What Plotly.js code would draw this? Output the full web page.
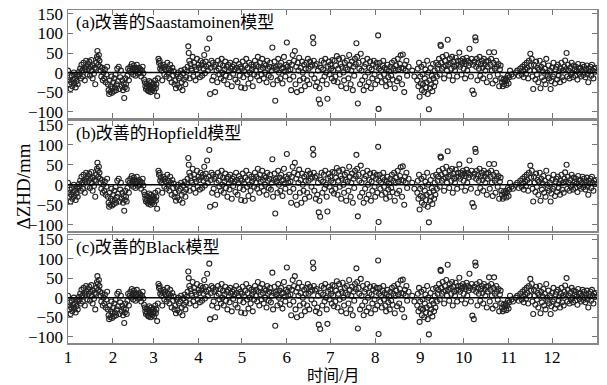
<!DOCTYPE html>
<html><head><meta charset="utf-8">
<script src="https://cdn.plot.ly/plotly-3.0.1.min.js"></script>
<style>html,body{margin:0;padding:0;background:#fff;}#chart{width:607px;height:385px;}</style>
</head><body><div id="chart"></div>
<script>
// Day of year of each observation
const days = [
1,1.5,2,2.3,2.8,3.2,3.6,4,4.5,5,5.4,5.9,6.3,6.8,7.2,7.7,8.1,8.6,
9,9.4,9.9,10.3,10.8,11.2,11.7,12.1,12.6,13,13.5,13.9,14.4,14.8,15.3,15.7,16.2,16.6,17.1,17.5,18,18.4,18.9,19.3,19.8,
20.2,20.6,21,21.3,21.6,22,22.3,22.7,23.1,23.5,24,24.5,25,25.5,26,26.5,27,27.5,28,
28.5,29,29.4,29.8,30.2,30.6,31,31.4,31.8,32.2,32.6,33,33.4,33.8,34.2,34.6,35,35.5,36,36.5,37,37.5,
38,38.5,39,39.4,39.8,40.2,40.6,41,41.5,42,42.5,43,43.5,
44,44.5,45,45.5,46,46.4,46.8,47.2,47.6,48,48.5,49,49.5,50,50.5,51,51.5,52,52.5,53,53.5,
54,54.4,54.8,55.2,55.6,56,56.3,56.6,57,57.3,57.6,58,58.3,58.6,59,59.3,59.6,60,60.4,60.8,61.2,61.6,62,
62.5,63,63.4,63.8,64.2,64.6,65,65.5,66,66.5,67,67.5,68,68.5,69,69.5,70,70.5,71,71.5,72,72.5,73,73.5,74,74.5,
75,75.5,76,76.5,77,77.5,78,78.5,79,79.5,80,80.5,81,81.5,82,82.5,83,
83.5,84,84.3,84.7,85,85.5,86,86.5,87,87.5,88,88.5,89,89.5,90,90.5,91,91.5,92,
92.5,93,93.5,94,94.5,95,95.5,96,96.5,97,97.5,98,98.5,99,99.5,100,100.5,
101,101.5,102,102.5,103,103.5,104,104.5,105,105.5,106,106.5,107,107.5,108,108.5,109,109.5,110,110.5,111,111.5,112,112.5,113,113.5,114,114.5,115,115.5,
116,116.5,117,117.5,118,118.5,119,119.5,120,120.5,121,121.5,122,122.5,123,123.5,124,124.5,125,125.5,126,126.5,127,127.5,128,128.5,129,129.5,130,
130.5,131,131.5,132,132.5,133,133.5,134,134.5,135,135.5,136,136.5,137,137.5,138,138.5,139,139.5,140,140.5,141,141.5,142,142.5,143,
143.5,144,144.5,145,145.5,146,146.5,147,147.5,148,148.5,149,149.5,150,150.5,151,151.5,152,152.5,153,153.5,154,154.5,155,
155.5,156,156.5,157,157.5,158,158.5,159,159.5,160,160.5,161,161.5,162,162.5,163,163.5,164,164.5,165,
165.5,166,166.5,167,167.5,168,168.5,169,169.5,170,170.3,170.6,171,171.5,172,172.5,173,173.5,174,174.5,175,175.5,176,176.5,177,177.5,178,178.5,179,179.5,180,180.5,181,181.5,182,182.5,183,183.5,184,184.5,
185,185.5,186,186.5,187,187.5,188,188.5,189,189.5,190,190.5,191,191.5,192,192.5,193,193.5,194,194.5,195,195.5,196,196.5,197,197.5,198,198.5,199,199.5,200,
200.5,201,201.5,202,202.5,203,203.5,204,204.5,205,205.5,206,206.5,207,207.5,208,208.5,209,209.5,210,210.5,211,211.5,212,212.5,213,213.5,214,214.5,215,215.3,215.6,
216,216.5,217,217.5,218,218.5,219,219.5,220,220.5,221,221.5,222,222.5,223,223.5,224,224.5,225,225.5,226,226.5,227,227.5,228,228.5,229,229.5,230,230.5,231,231.5,232,232.5,233,233.5,234,234.5,235,236,
238.5,240,
242,242.4,242.8,243.2,243.6,244,244.4,244.8,245.2,245.6,246,246.4,246.8,247.2,247.6,248,248.4,248.8,249.2,249.6,250,250.4,250.8,251.2,251.6,252,252.4,252.8,253.2,253.6,254,254.5,255,255.5,256,
256.5,257,257.5,258,258.3,258.6,259,259.5,260,260.5,261,261.5,262,262.5,263,263.5,264,264.5,265,265.5,266,266.5,267,267.5,268,268.5,269,269.5,270,
270.5,271,271.5,272,272.5,273,273.5,274,274.5,275,275.5,276,276.5,277,277.5,278,278.5,279,279.5,280,280.5,281,281.5,282,282.3,282.6,283,283.5,284,284.5,285,285.5,286,286.5,287,287.5,288,288.5,289,289.5,290,
290.5,291,291.5,292,292.5,293,293.5,294,294.5,295,295.5,296,296.5,297,297.5,298,298.5,299,299.5,300,
300.5,301,301.5,302,302.5,303,303.5,304,304.5,305,305.5,306,307,308,
310,311,312,313,314,314.5,315,315.5,316,316.5,317,317.5,318,318.5,319,319.5,320,320.5,
321,321.5,322,322.5,323,323.5,324,324.5,325,325.5,326,326.5,327,327.5,328,328.5,329,329.5,330,330.5,331,331.5,332,332.5,333,333.5,334,334.5,335,335.5,336,336.5,337,337.5,338,338.5,339,339.5,340,340.5,341,341.5,342,342.5,343,343.5,344,344.5,345,
345.5,346,346.5,347,347.5,348,348.5,349,349.5,350,350.5,351,351.5,352,352.5,353,353.5,354,354.5,355,355.5,356,356.5,357,357.5,358,358.5,359,359.5,360,360.5,361,361.5,362,362.5,363,363.5,364,364.5,365
];
// ΔZHD values (mm), same for the three improved models (differences are below plotting resolution)
const dZHD = [
5,-20,-30,-12,-42,-25,-8,-35,-18,0,-28,-15,-38,-22,-5,-30,-10,2,
-5,10,-15,20,5,-10,25,12,-20,8,30,15,-5,22,10,28,-8,15,32,5,-15,18,-3,12,-30,
10,25,40,55,35,20,45,30,15,5,-10,12,-20,0,-15,8,-25,-5,15,
-30,-45,-55,-20,-50,-35,-10,-52,-40,-25,-48,-15,-38,-5,-45,-30,10,-22,15,-42,-12,5,
-35,-20,-45,-28,-65,-38,-15,-30,-42,-8,10,-20,5,
15,0,22,8,-5,18,12,3,-8,10,20,5,-3,12,0,8,-10,5,15,-2,-18,
-25,-35,-42,-28,-38,-45,-30,-48,-22,-40,-35,-50,-25,-42,-32,-45,-38,-28,-48,-35,-20,-40,-30,
-60,-15,35,25,30,10,18,5,-20,12,20,-5,15,8,-10,25,0,10,-15,20,5,-25,12,-8,3,-30,
-20,-40,-5,-32,0,-15,-38,-10,5,-25,-45,-2,-18,8,-30,-12,2,
15,67,50,30,-15,22,10,5,40,-10,25,15,-20,8,35,-5,20,12,-12,
30,18,-8,25,10,45,-2,28,15,61,5,20,87,-55,12,30,-20,
25,-10,15,-50,20,5,-25,30,10,-5,22,-15,35,0,18,-20,8,28,-8,15,-30,20,3,-12,25,10,-35,15,-3,20,
8,-18,30,12,-25,5,22,-8,15,-38,10,28,-12,3,-40,18,35,-5,12,-28,25,0,-15,20,8,-35,15,-5,30,
5,20,-10,40,15,-20,25,8,-5,35,12,-15,22,0,18,-25,30,10,-8,15,25,-12,5,64,-30,12,
28,-72,15,8,-20,35,0,18,-15,25,10,-28,12,40,3,-10,20,77,15,5,25,-18,8,-45,
20,45,-10,30,55,-30,15,-50,25,5,38,-20,12,-45,28,0,-15,20,-35,10,
25,-20,35,10,-30,28,15,-5,20,90,75,30,-15,18,-35,22,-25,5,-69,-40,-80,12,30,-20,8,25,-10,35,0,-30,-67,15,28,-5,20,10,-15,32,5,-22,
30,-10,18,42,-25,10,35,-5,22,-35,15,38,0,-20,25,12,-40,30,8,-15,45,20,-30,5,28,-45,15,-8,35,22,75,
40,-79,25,10,-30,48,5,-20,30,-45,15,-10,22,-35,35,0,-25,12,28,-40,8,-15,20,30,-5,-30,15,25,-20,95,-93,10,
25,-10,5,-25,18,30,-5,12,-20,-35,8,20,-12,3,-30,15,-8,25,-18,10,30,-40,5,18,-22,35,8,-15,22,44,12,-30,46,10,-50,20,5,30,-8,15,
5,-10,
-20,10,-35,25,-62,-10,-28,15,-45,-5,-30,20,-50,-15,8,-38,-25,30,-55,0,-94,-20,-40,12,-30,-8,-48,22,-15,-35,5,-25,25,-10,10,
20,35,-5,71,68,25,10,40,15,-15,30,18,45,5,84,20,-8,35,25,10,40,-20,28,15,5,38,20,-10,30,
20,51,15,30,-5,25,35,10,28,-15,22,38,5,30,18,61,25,-10,35,-46,20,-55,28,90,82,15,35,-20,25,10,40,-8,22,30,12,-15,35,20,5,28,-25,
15,30,52,-10,20,35,5,-28,25,52,10,-20,30,15,-5,22,-35,8,18,-15,
-25,-35,-18,-30,-22,-15,-32,-20,-8,-28,-12,5,-5,-10,
0,5,-8,10,-5,15,3,-12,20,8,-3,25,12,-15,30,5,48,18,
35,-10,-42,20,5,-18,28,-5,12,-25,8,30,-40,15,-12,3,22,-20,10,-30,35,0,-8,18,-15,5,-42,-22,12,-10,25,-5,-28,8,15,-18,20,-8,3,-25,10,25,-12,5,-20,15,31,8,50,
-10,20,5,-15,12,-5,25,0,-12,18,8,-8,15,3,-18,22,10,-3,12,-10,5,20,-6,15,0,-12,8,18,-5,-25,10,3,15,-8,20,5,-15,10,2,12
];
const monthStartDays = [1,32,60,91,121,152,182,213,244,274,305,335];
const monthLabels = ['1','2','3','4','5','6','7','8','9','10','11','12'];
const yTicks = [-100,-50,0,50,100,150];
const panelTitles = ['(a)改善的Saastamoinen模型','(b)改善的Hopfield模型','(c)改善的Black模型'];

const FONT = '"Liberation Serif", "Noto Sans CJK SC", serif';
const domains = [[0.676,1],[0.336,0.667],[0,0.324]];
const traces = [];
const layout = {
  width:607, height:385,
  margin:{l:68,r:10,t:10,b:42},
  paper_bgcolor:'#fff', plot_bgcolor:'#fff',
  showlegend:false,
  font:{family:FONT, size:16, color:'#000'},
  annotations:[], shapes:[]
};
for (let i=0;i<3;i++){
  const xa = i===0?'x':'x'+(i+1), ya = i===0?'y':'y'+(i+1);
  traces.push({x:days, y:dZHD, xaxis:xa, yaxis:ya, type:'scatter', mode:'markers',
    marker:{symbol:'circle-open', size:5, color:'#222', line:{width:1.1, color:'#222'}}, hoverinfo:'skip'});
  const xk = i===0?'xaxis':'xaxis'+(i+1), yk = i===0?'yaxis':'yaxis'+(i+1);
  layout[xk] = {domain:[0,1], anchor:ya, range:[1,366], tickvals:monthStartDays, ticktext:monthLabels,
    showticklabels:i===2, ticks:'inside', ticklen:5, tickcolor:'#777', tickwidth:1,
    showline:true, linecolor:'#888', linewidth:1.5, mirror:'ticks', showgrid:false, zeroline:false,
    ticklabelstandoff:-2,
    tickfont:{family:FONT,size:17,color:'#000'}};
  if (i>0) layout[xk].matches='x';
  layout[yk] = {domain:domains[i], anchor:xa, range:[-116,160], tickvals:yTicks,
    ticks:'inside', ticklen:5, tickcolor:'#777', tickwidth:1,
    showline:true, linecolor:'#888', linewidth:1.5, mirror:'ticks', showgrid:false,
    zeroline:false,
    tickfont:{family:FONT,size:17,color:'#000'}};
  layout.shapes.push({type:'line', xref:xa+' domain', yref:ya, x0:0, x1:1, y0:0, y1:0,
    line:{color:'#000', width:1.5}, layer:'above'});
  layout.annotations.push({text:panelTitles[i], xref:'paper', yref:'paper', x:0.012, y:domains[i][1]-0.003,
    xanchor:'left', yanchor:'top', showarrow:false, font:{family:FONT,size:17,color:'#000'}});
}
layout.annotations.push({text:'时间/月', xref:'paper', yref:'paper', x:0.5, y:-0.098,
  xanchor:'center', yanchor:'middle', showarrow:false, font:{family:FONT,size:16,color:'#000'}});
layout.annotations.push({text:'ΔZHD/mm', xref:'paper', yref:'paper', x:-0.085, y:0.47, textangle:-90,
  xanchor:'center', yanchor:'middle', showarrow:false, font:{family:FONT,size:19,color:'#000'}});
Plotly.newPlot('chart', traces, layout, {displayModeBar:false, staticPlot:true});
</script></body></html>
